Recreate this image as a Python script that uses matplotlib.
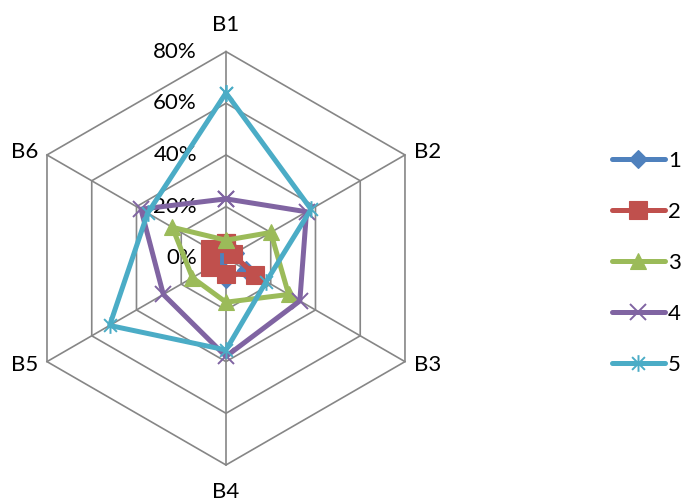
import numpy as np
import matplotlib
matplotlib.use("Agg")
import matplotlib.pyplot as plt
from matplotlib.path import Path
from matplotlib.transforms import offset_copy

plt.rcParams['font.family'] = ['Lato', 'DejaVu Sans']

categories = ['B1', 'B2', 'B3', 'B4', 'B5', 'B6']
series_names = ['1', '2', '3', '4', '5']
s1 = [0.03, 0.04, 0.09, 0.08, 0.03, 0.03]
s2 = [0.06, 0.03, 0.13, 0.06, 0.07, 0.07]
s3 = [0.07, 0.20, 0.28, 0.17, 0.15, 0.24]
s4 = [0.23, 0.36, 0.33, 0.38, 0.28, 0.38]
s5 = [0.64, 0.38, 0.18, 0.355, 0.52, 0.35]
ring_values = [0.0, 0.2, 0.4, 0.6, 0.8]
ring_labels = ['0%', '20%', '40%', '60%', '80%']

colors = ['#4F81BD', '#C0504D', '#9BBB59', '#8064A2', '#4BACC6']
grid_color = '#868686'

# excel-style star: an x with a vertical bar through it
star = Path([(-1, -1), (1, 1), (-1, 1), (1, -1), (0, -1.3), (0, 1.3)],
            [Path.MOVETO, Path.LINETO, Path.MOVETO, Path.LINETO,
             Path.MOVETO, Path.LINETO])
markers = ['D', 's', '^', 'x', star]
msizes = [9, 13, 12, 12, 12]

fig = plt.figure(figsize=(6.81, 4.99), dpi=100)
ax = fig.add_axes([0.02834, 0.06814, 0.6070, 0.8285], projection='polar')
ax.set_theta_offset(np.pi / 2)
ax.set_theta_direction(-1)
ax.set_ylim(0, 0.8)
ax.grid(False)
ax.spines['polar'].set_visible(False)
ax.set_xticks([])
ax.set_yticks([])
ax.patch.set_alpha(0)

n = len(categories)
angles = np.linspace(0, 2 * np.pi, n, endpoint=False)
closed = np.append(angles, angles[0])

# hexagon rings and spokes
for r in ring_values[1:]:
    ax.plot(closed, [r] * (n + 1), color=grid_color, lw=1.2, zorder=1, clip_on=False)
for a in angles:
    ax.plot([a, a], [0, 0.8], color=grid_color, lw=1.2, zorder=1, clip_on=False)

# radial value labels to the left of the top spoke
tr = offset_copy(ax.transData, fig=fig, x=-29, y=0, units='dots')
for r, lab in zip(ring_values, ring_labels):
    ax.text(0, r, lab, transform=tr, ha='right', va='center', fontsize=16, color='black')

# category labels
label_offsets = [(0, 27, 'center', 'center'), (9, 3, 'left', 'center'),
                 (9, -3, 'left', 'center'), (0, -27, 'center', 'center'),
                 (-9, -3, 'right', 'center'), (-9, 3, 'right', 'center')]
for a, lab, (dx, dy, ha, va) in zip(angles, categories, label_offsets):
    t = offset_copy(ax.transData, fig=fig, x=dx, y=dy, units='dots')
    ax.text(a, 0.8, lab, transform=t, ha=ha, va=va, fontsize=16, color='black')

all_series = [s1, s2, s3, s4, s5]
handles = []
for i, vals in enumerate(all_series):
    v = np.append(vals, vals[0])
    h, = ax.plot(closed, v, color=colors[i], lw=3.6, marker=markers[i],
                 markersize=msizes[i], markeredgewidth=1.4 if i >= 3 else 0.8,
                 markeredgecolor=colors[i], markerfacecolor=colors[i],
                 zorder=3 + i, clip_on=False, label=series_names[i],
                 solid_joinstyle='round', solid_capstyle='round')
    handles.append(h)

fig.legend(handles=handles, loc='center left', bbox_to_anchor=(0.885, 0.473),
           frameon=False, fontsize=16, handlelength=2.4, handletextpad=0.15,
           labelspacing=1.4, borderaxespad=0)

fig.savefig('out.png', dpi=100)
